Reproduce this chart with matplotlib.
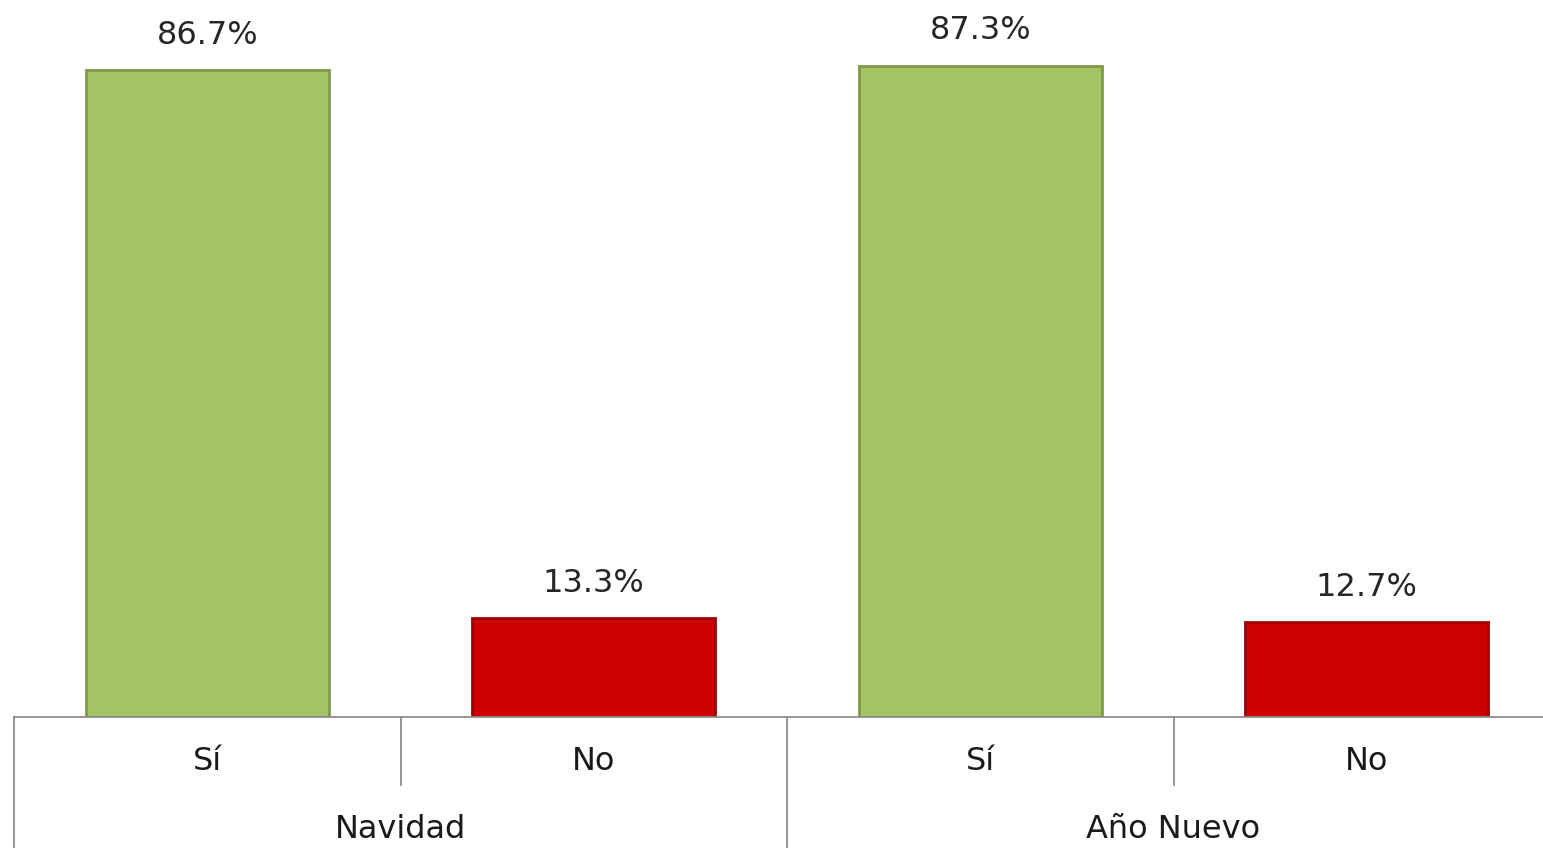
import matplotlib
matplotlib.use("Agg")
import matplotlib.pyplot as plt
import matplotlib.transforms as mtransforms

# data
groups = ["Navidad", "Año Nuevo"]
answers = ["Sí", "No", "Sí", "No"]
values = [86.7, 13.3, 87.3, 12.7]
bar_colors = ["#A4C463", "#CC0000", "#A4C463", "#CC0000"]
edge_colors = ["#7E9A47", "#9C0000", "#7E9A47", "#9C0000"]

W, H = 1543, 848
fig = plt.figure(figsize=(W / 100, H / 100), dpi=100)
ax = fig.add_axes([14 / W, (H - 717) / H, 1546 / W, 717 / H])

xs = list(range(len(values)))
ax.bar(xs, values, width=0.63, color=bar_colors, edgecolor=edge_colors, linewidth=2, zorder=2)

ax.set_xlim(-0.5, len(values) - 0.5)
ax.set_ylim(0, 96.1)
ax.axis("off")

fs = 23
for x, v in zip(xs, values):
    ax.annotate(f"{v:.1f}%", xy=(x, v), xytext=(0, 25), textcoords="offset points",
                ha="center", va="center", fontsize=fs, color="#262626")

trans = mtransforms.blended_transform_factory(ax.transData, ax.transAxes)
line_kw = dict(color="#8C8C8C", linewidth=1.3, clip_on=False, transform=trans)

# baseline
ax.plot([-0.5, len(values) - 0.5], [0, 0], **line_kw)
# separators
for x in [-0.5, 1.5]:
    ax.plot([x, x], [0, -131 / 717], **line_kw)
for x in [0.5, 2.5]:
    ax.plot([x, x], [0, -68 / 717], **line_kw)

for x, a in zip(xs, answers):
    ax.text(x, -45 / 717, a, transform=trans, ha="center", va="center", fontsize=fs, color="#1a1a1a")
for i, g in enumerate(groups):
    ax.text(2 * i + 0.5, -113 / 717, g, transform=trans, ha="center", va="center", fontsize=fs, color="#1a1a1a")

fig.savefig("out.png", dpi=100)
